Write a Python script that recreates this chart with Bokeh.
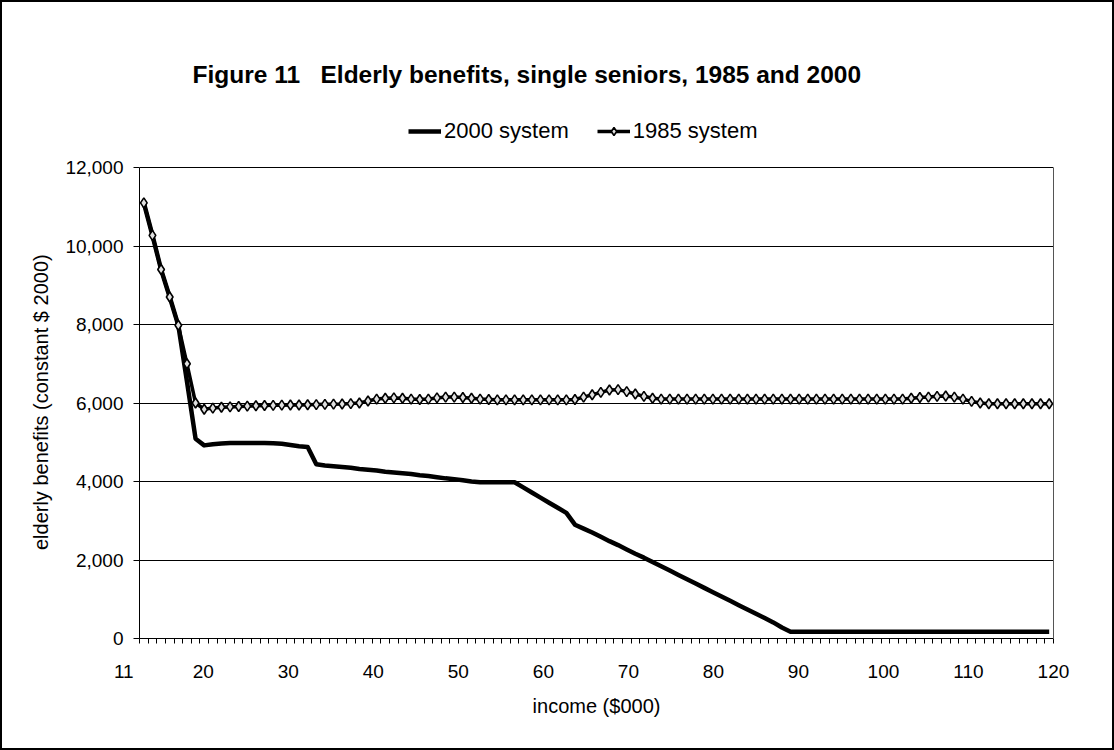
import numpy as np
from bokeh.plotting import figure
from bokeh.models import (FixedTicker, NumeralTickFormatter, Legend, LegendItem,
                          Label, Range1d, LinearAxis)
from bokeh.embed import file_html
from bokeh.resources import INLINE

FONT = "Liberation Sans"

# income categories, $000 (one point per category)
income = np.linspace(13.0, 119.5, 106)

benefits_2000 = [
    11100, 10270, 9400, 8700, 7980, 6550, 5090, 4920, 4950, 4970,
    4980, 4980, 4980, 4980, 4980, 4975, 4960, 4930, 4900, 4880,
    4440, 4410, 4390, 4370, 4350, 4320, 4300, 4280, 4250, 4230,
    4210, 4190, 4160, 4140, 4110, 4080, 4060, 4030, 4000, 3980,
    3980, 3980, 3980, 3980, 3850, 3720, 3590, 3460, 3330, 3200,
    2900, 2800, 2700, 2590, 2480, 2380, 2270, 2160, 2060, 1950,
    1840, 1730, 1620, 1510, 1400, 1290, 1180, 1070, 960, 850,
    740, 630, 520, 410, 280, 170, 170, 170, 170, 170,
    170, 170, 170, 170, 170, 170, 170, 170, 170, 170,
    170, 170, 170, 170, 170, 170, 170, 170, 170, 170,
    170, 170, 170, 170, 170, 170,
]

benefits_1985 = [
    11100, 10270, 9400, 8700, 7980, 7000, 6000, 5840, 5870, 5890,
    5900, 5910, 5920, 5930, 5935, 5940, 5945, 5950, 5950, 5955,
    5960, 5965, 5970, 5975, 5985, 6000, 6050, 6100, 6120, 6130,
    6120, 6100, 6090, 6100, 6130, 6150, 6150, 6140, 6120, 6100,
    6090, 6080, 6080, 6080, 6080, 6080, 6080, 6080, 6080, 6080,
    6090, 6150, 6210, 6270, 6330, 6340, 6290, 6230, 6170, 6120,
    6100, 6100, 6100, 6100, 6100, 6100, 6100, 6100, 6100, 6100,
    6100, 6100, 6100, 6100, 6100, 6100, 6100, 6100, 6100, 6100,
    6100, 6100, 6100, 6100, 6100, 6100, 6100, 6100, 6100, 6120,
    6140, 6150, 6170, 6180, 6150, 6100, 6040, 6000, 5980, 5980,
    5980, 5980, 5980, 5980, 5980, 5980,
]

x_tick_values = [20, 30, 40, 50, 60, 70, 80, 90, 100, 110, 120]
first_x_label = "11"
y_tick_values = [0, 2000, 4000, 6000, 8000, 10000, 12000]
Y_MAX = 12000

TITLE = "Figure 11\u00a0\u00a0\u00a0Elderly benefits, single seniors, 1985 and 2000"
Y_TITLE = "elderly benefits (constant $ 2000)"

# tick marks sit on the boundaries between income categories
step = income[1] - income[0]
edges = [float(v) for v in (income - step / 2)] + [float(income[-1] + step / 2)]
x_start = 12.49

# geometry (canvas px): the frame reaches up to hold the title and legend,
# while the plotted area itself spans 0..12,000 over 471 px
AREA_H = 471
FRAME_TOP = 30
FRAME_H = AREA_H + (165 - FRAME_TOP)
y_top = Y_MAX * FRAME_H / AREA_H

p = figure(
    frame_width=914, frame_height=FRAME_H,
    min_border_left=137, min_border_right=59,
    min_border_top=FRAME_TOP, min_border_bottom=110,
    x_range=Range1d(x_start, edges[-1]), y_range=Range1d(0, y_top),
    output_backend="svg", toolbar_location=None,
    background_fill_color="white", border_fill_color="white",
)
p.styles = {"border": "2px solid black"}
p.outline_line_color = None

p.xgrid.grid_line_color = None
p.ygrid.grid_line_color = "black"
p.ygrid.grid_line_width = 1
p.ygrid.ticker = FixedTicker(ticks=y_tick_values)

xa = p.xaxis[0]
xa.ticker = FixedTicker(ticks=[12.5] + x_tick_values, minor_ticks=edges)
# the first category label hangs to the left of the axis start
xa.major_label_overrides = {12.5: first_x_label + "\u00a0" * 6}
xa.major_tick_out = 0
xa.major_tick_in = 0
xa.minor_tick_out = 5
xa.minor_tick_in = 0
xa.minor_tick_line_color = "black"
xa.axis_line_color = "black"
xa.major_label_standoff = 17
xa.major_label_text_font = FONT
xa.major_label_text_font_size = "19px"
xa.major_label_text_color = "black"
xa.axis_label = "income ($000)"
xa.axis_label_text_font = FONT
xa.axis_label_text_font_style = "normal"
xa.axis_label_text_font_size = "20px"
xa.axis_label_text_color = "black"
xa.axis_label_standoff = 10

ya = p.yaxis[0]
ya.bounds = (0, Y_MAX)
ya.ticker = FixedTicker(ticks=y_tick_values)
ya.formatter = NumeralTickFormatter(format="0,0")
ya.major_tick_out = 6
ya.major_tick_in = 0
ya.minor_tick_out = 0
ya.minor_tick_in = 0
ya.axis_line_color = "black"
ya.major_label_standoff = 10
ya.major_label_text_font = FONT
ya.major_label_text_font_size = "19px"
ya.major_label_text_color = "black"
# trailing no-break spaces centre the title on the 0..12,000 span
# rather than on the taller frame
ya.axis_label = Y_TITLE + "\u00a0" * 24
ya.axis_label_text_font = FONT
ya.axis_label_text_font_style = "normal"
ya.axis_label_text_font_size = "20px"
ya.axis_label_text_color = "black"
ya.axis_label_standoff = 10

# right edge of the plotted area
right_edge = LinearAxis(bounds=(0, Y_MAX), ticker=FixedTicker(ticks=[]),
                        major_tick_out=0, major_tick_in=0,
                        minor_tick_out=0, minor_tick_in=0,
                        major_label_text_alpha=0,
                        axis_line_color="#555555", axis_line_width=1)
p.add_layout(right_edge, "right")

# chart title, in screen units from the frame's lower-left corner
p.add_layout(Label(x=53, y=564, x_units="screen", y_units="screen",
                   text=TITLE, text_align="left", text_baseline="middle",
                   text_font=FONT, text_font_style="bold",
                   text_font_size="24.5px", text_color="black"))

r2000 = p.line(income, benefits_2000, line_color="black", line_width=4.5,
               line_join="round")
r1985 = p.line(income, benefits_1985, line_color="black", line_width=3.5,
               line_join="round")
m1985 = p.scatter(income, benefits_1985, marker="diamond", size=10,
                  fill_color="#e0e0e0", line_color="black", line_width=1.6)

legend = Legend(
    items=[LegendItem(label="2000 system", renderers=[r2000]),
           LegendItem(label="1985 system", renderers=[r1985, m1985])],
    orientation="horizontal", location=(269, 494),
    border_line_color=None, background_fill_alpha=0,
    label_text_font=FONT, label_text_font_size="22px",
    label_text_color="black",
    glyph_width=33, glyph_height=20, label_standoff=3, spacing=28,
    padding=0, margin=0,
)
p.add_layout(legend, "center")

open("out.html", "w").write(file_html(p, INLINE))
